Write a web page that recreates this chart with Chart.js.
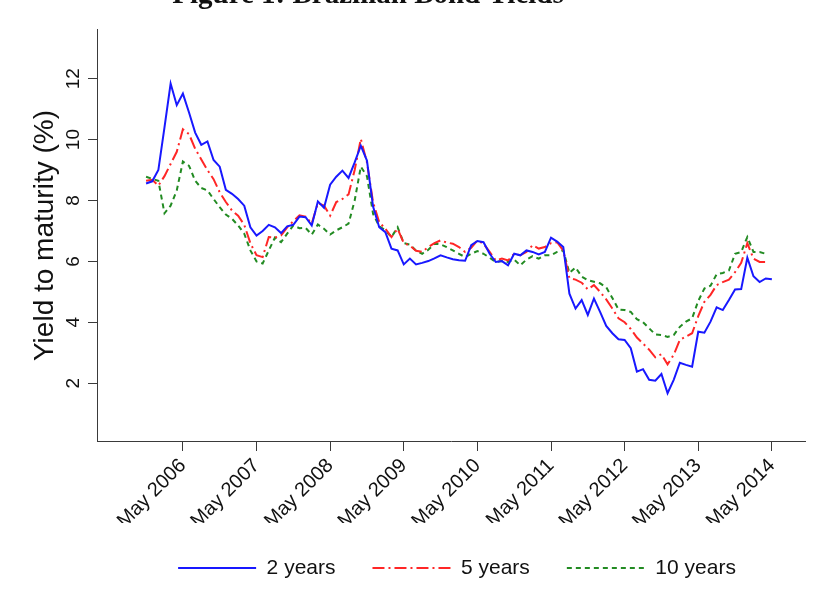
<!DOCTYPE html>
<html>
<head>
<meta charset="utf-8">
<title>Brazilian Bond Yields</title>
<script src="https://cdn.jsdelivr.net/npm/chart.js@4.4.1/dist/chart.umd.min.js"></script>
<style>
  html, body { margin: 0; padding: 0; background: #ffffff; }
  #wrap { position: relative; width: 829px; height: 599px; overflow: hidden; }
</style>
</head>
<body>
<div id="wrap"><canvas id="chart" width="829" height="599"></canvas></div>
<script>
// Monthly yields to maturity (%), November 2005 to May 2014
const firstMonth = { year: 2005, month: 11 };

const yield2y = [
  8.56, 8.63, 9.00, 10.40, 11.84, 11.13, 11.51, 10.89, 10.23, 9.83,
  9.94, 9.33, 9.11, 8.35, 8.22, 8.05, 7.83, 7.12, 6.85, 7.00,
  7.20, 7.12, 6.93, 7.15, 7.20, 7.47, 7.45, 7.18, 7.97, 7.76,
  8.52, 8.78, 8.98, 8.74, 9.25, 9.80, 9.31, 7.80, 7.12, 6.96,
  6.42, 6.36, 5.90, 6.09, 5.90, 5.95, 6.01, 6.10, 6.20, 6.13,
  6.07, 6.04, 6.02, 6.53, 6.67, 6.63, 6.25, 5.98, 6.01, 5.87,
  6.25, 6.20, 6.36, 6.31, 6.23, 6.31, 6.78, 6.65, 6.47, 4.94,
  4.45, 4.73, 4.24, 4.78, 4.34, 3.88, 3.64, 3.44, 3.42, 3.15,
  2.38, 2.46, 2.11, 2.08, 2.30, 1.67, 2.11, 2.67, 2.60, 2.54,
  3.69, 3.66, 4.02, 4.49, 4.40, 4.73, 5.08, 5.09, 6.12, 5.51,
  5.32, 5.44, 5.41
];

const yield5y = [
  8.65, 8.68, 8.49, 8.80, 9.20, 9.60, 10.34, 10.18, 9.70, 9.35,
  9.00, 8.70, 8.27, 7.95, 7.67, 7.50, 7.20, 6.60, 6.20, 6.14,
  6.80, 6.78, 6.85, 7.12, 7.32, 7.51, 7.47, 7.24, 7.91, 7.83,
  7.50, 7.95, 8.05, 8.20, 9.00, 10.02, 9.25, 7.94, 7.29, 7.07,
  6.80, 7.07, 6.60, 6.52, 6.35, 6.31, 6.47, 6.60, 6.69, 6.62,
  6.58, 6.47, 6.31, 6.45, 6.69, 6.58, 6.31, 6.03, 6.09, 6.03,
  6.25, 6.20, 6.31, 6.53, 6.42, 6.47, 6.60, 6.63, 6.35, 5.45,
  5.40, 5.30, 5.08, 5.22, 5.00, 4.75, 4.45, 4.13, 4.00, 3.78,
  3.50, 3.30, 3.10, 2.85, 2.95, 2.62, 2.93, 3.42, 3.53, 3.64,
  4.20, 4.67, 4.90, 5.22, 5.32, 5.40, 5.65, 5.95, 6.60, 6.09,
  5.98, 5.98, null
];

const yield10y = [
  8.78, 8.71, 8.65, 7.58, 7.83, 8.33, 9.28, 9.14, 8.65, 8.41,
  8.33, 8.05, 7.78, 7.54, 7.40, 7.18, 6.91, 6.36, 6.00, 5.93,
  6.36, 6.78, 6.63, 6.91, 7.18, 7.09, 7.10, 6.88, 7.21, 7.07,
  6.88, 7.02, 7.12, 7.24, 8.00, 9.11, 8.80, 7.56, 7.15, 7.02,
  6.80, 7.12, 6.60, 6.55, 6.35, 6.25, 6.38, 6.58, 6.56, 6.47,
  6.36, 6.25, 6.14, 6.25, 6.34, 6.25, 6.12, 5.98, 6.01, 5.98,
  6.06, 5.87, 6.06, 6.17, 6.09, 6.20, 6.20, 6.31, 6.36, 5.62,
  5.80, 5.50, 5.38, 5.33, 5.28, 5.15, 4.80, 4.42, 4.40, 4.34,
  4.10, 4.00, 3.80, 3.60, 3.58, 3.52, 3.58, 3.85, 4.02, 4.13,
  4.70, 5.11, 5.20, 5.58, 5.62, 5.70, 6.25, 6.31, 6.80, 6.31,
  6.31, 6.25, null
];

const seriesNames = ['2 years', '5 years', '10 years'];
const xTickLabels = ['May 2006', 'May 2007', 'May 2008', 'May 2009', 'May 2010',
                     'May 2011', 'May 2012', 'May 2013', 'May 2014'];
const yTickValues = [2, 4, 6, 8, 10, 12];

// Months counted from the first observation
const monthIndex = yield2y.map((_, i) => i);
const monthNames = ['Jan','Feb','Mar','Apr','May','Jun','Jul','Aug','Sep','Oct','Nov','Dec'];
function monthsFromStart(label) {
  const [mon, yr] = label.split(' ');
  return (Number(yr) - firstMonth.year) * 12 + (monthNames.indexOf(mon) + 1) - firstMonth.month;
}
const xTicks = xTickLabels.map(l => ({ value: monthsFromStart(l), label: l }));

const SANS = '"Liberation Sans", Arial, Helvetica, sans-serif';
const AXIS = '#3a3a3a';

// Places the caption and the key where the figure wants them
const placeBlocks = {
  id: 'placeBlocks',
  afterLayout(chart) {
    const t = chart.titleBlock;
    if (t) {
      const w = t.right - t.left;
      t.left = 368 - w / 2;
      t.right = 368 + w / 2;
    }
    const lg = chart.legend;
    if (lg) {
      const w = lg.right - lg.left;
      const h = lg.bottom - lg.top;
      lg.left = 457 - w / 2;
      lg.right = 457 + w / 2;
      lg.top = 520.5;
      lg.bottom = lg.top + h;
    }
  }
};

// Legend samples drawn as short strokes carrying each series' dash pattern
function lineSamples(chart) {
  const items = Chart.defaults.plugins.legend.labels.generateLabels(chart);
  return items.map(item => {
    const ds = chart.data.datasets[item.datasetIndex];
    return Object.assign(item, {
      pointStyle: 'line',
      lineDash: ds.borderDash || [],
      lineWidth: ds.borderWidth,
      strokeStyle: ds.borderColor,
      fillStyle: ds.borderColor
    });
  });
}

new Chart(document.getElementById('chart'), {
  type: 'line',
  data: {
    labels: monthIndex,
    datasets: [
      {
        label: seriesNames[0], data: yield2y,
        borderColor: 'rgb(24,24,255)', backgroundColor: 'rgb(24,24,255)',
        borderWidth: 2, pointRadius: 0, tension: 0
      },
      {
        label: seriesNames[1], data: yield5y,
        borderColor: 'rgb(255,38,38)', backgroundColor: 'rgb(255,38,38)',
        borderWidth: 2, borderDash: [12, 4, 2, 4], pointRadius: 0, tension: 0
      },
      {
        label: seriesNames[2], data: yield10y,
        borderColor: 'rgb(34,139,34)', backgroundColor: 'rgb(34,139,34)',
        borderWidth: 2, borderDash: [5, 4], pointRadius: 0, tension: 0
      }
    ]
  },
  options: {
    responsive: false,
    devicePixelRatio: 1,
    animation: false,
    spanGaps: false,
    layout: { padding: { top: -22.2, left: 0, right: 24, bottom: 8 } },
    plugins: {
      title: {
        display: true,
        text: 'Figure 1: Brazilian Bond Yields',
        color: '#111',
        font: { family: '"Liberation Serif", "Times New Roman", serif', size: 29, weight: 'bold', lineHeight: 1.2 },
        padding: { top: 0, bottom: 17.4 }
      },
      legend: {
        position: 'bottom',
        maxHeight: 76,
        labels: {
          usePointStyle: true,
          pointStyle: 'line',
          pointStyleWidth: 78,
          boxHeight: 10,
          padding: 37,
          color: '#111',
          font: { family: SANS, size: 21 },
          generateLabels: lineSamples
        }
      },
      tooltip: { enabled: false }
    },
    scales: {
      x: {
        type: 'linear',
        min: -8,
        max: 107.4,
        afterFit: s => { s.height = 82; },
        afterBuildTicks: s => { s.ticks = xTicks.map(t => ({ value: t.value })); },
        grid: { drawOnChartArea: false, drawTicks: true, tickLength: 10, color: AXIS, lineWidth: 1 },
        border: { display: true, color: AXIS, width: 1 },
        ticks: {
          autoSkip: false,
          minRotation: 45,
          maxRotation: 45,
          padding: 3,
          color: '#111',
          font: { family: SANS, size: 20 },
          callback: v => {
            const t = xTicks.find(k => k.value === v);
            return t ? t.label : '';
          }
        }
      },
      y: {
        type: 'linear',
        min: 0.1,
        max: 13.6,
        afterFit: s => { s.width = 97; },
        afterBuildTicks: s => { s.ticks = yTickValues.map(v => ({ value: v })); },
        grid: { drawOnChartArea: false, drawTicks: true, tickLength: 9, color: AXIS, lineWidth: 1 },
        border: { display: true, color: AXIS, width: 1 },
        ticks: {
          minRotation: 90,
          maxRotation: 90,
          crossAlign: 'center',
          padding: 4,
          color: '#111',
          font: { family: SANS, size: 19 }
        },
        title: {
          display: true,
          text: 'Yield to maturity (%)',
          color: '#111',
          font: { family: SANS, size: 28, lineHeight: 1.2 },
          padding: { top: 28, bottom: 0 }
        }
      }
    }
  },
  plugins: [placeBlocks]
});
</script>
</body>
</html>
